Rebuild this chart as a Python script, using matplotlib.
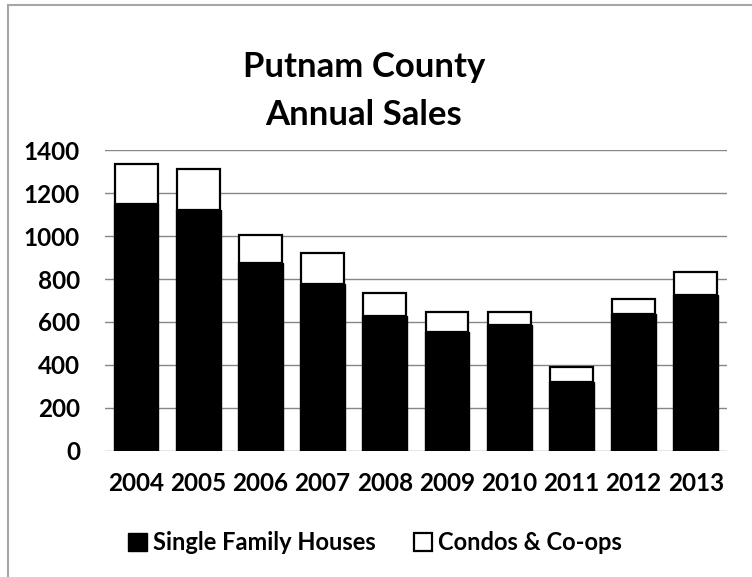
import matplotlib
matplotlib.use("Agg")
import matplotlib.pyplot as plt
from matplotlib.lines import Line2D

years = ["2004", "2005", "2006", "2007", "2008", "2009", "2010", "2011", "2012", "2013"]
single_family = [1149, 1121, 873, 777, 628, 555, 586, 322, 636, 726]
condos = [186, 189, 132, 145, 108, 93, 62, 70, 69, 108]

plt.rcParams['font.family'] = ['Lato', 'DejaVu Sans']

fig = plt.figure(figsize=(7.52, 5.77), dpi=100)
ax = fig.add_axes([0.1396, 0.2184, 0.827, 0.5216])

x = range(len(years))
ax.bar(x, single_family, width=0.72, color='black', edgecolor='black', linewidth=1,
       label='Single Family Houses', zorder=3)
ax.bar(x, condos, width=0.69, bottom=single_family, color='white', edgecolor='black',
       linewidth=1.6, label='Condos & Co-ops', zorder=3)

ax.set_ylim(0, 1400)
ax.set_xlim(-0.5, len(years) - 0.5)
ax.set_yticks(range(0, 1401, 200))
ax.yaxis.grid(True, color='#868686', linewidth=1, zorder=0)
ax.set_xticks(list(x))
ax.set_xticklabels(years)
for s in ax.spines.values():
    s.set_visible(False)
ax.tick_params(axis='both', length=0, labelsize=17.5, colors='black')
ax.tick_params(axis='y', pad=18)
ax.tick_params(axis='x', pad=15)
for lab in ax.get_xticklabels() + ax.get_yticklabels():
    lab.set_fontweight('bold')

# two-line title
fig.text(0.484, 1 - 77 / 577, "Putnam County", ha='center', va='baseline',
         fontsize=25, fontweight='bold')
fig.text(0.484, 1 - 125 / 577, "Annual Sales", ha='center', va='baseline',
         fontsize=25, fontweight='bold')

fig.legend(loc='center', bbox_to_anchor=(0.499, 1 - 543 / 577), ncol=2, frameon=False,
           prop={'weight': 'bold', 'size': 17},
           handlelength=0.8, handleheight=0.8, handletextpad=0.25, columnspacing=1.6)

# chart border (top and left edges visible in the original crop)
fig.add_artist(Line2D([0.011, 0.011], [0.0, 0.991], transform=fig.transFigure,
                      color='#a6a6a6', linewidth=1.5))
fig.add_artist(Line2D([0.011, 1.0], [0.991, 0.991], transform=fig.transFigure,
                      color='#a6a6a6', linewidth=1.5))

fig.savefig("out.png", dpi=100)
